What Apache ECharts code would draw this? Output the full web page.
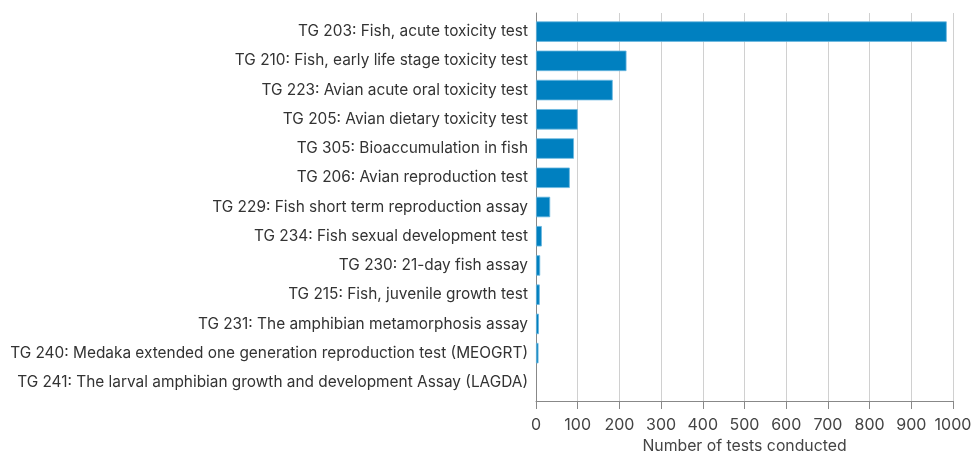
<!DOCTYPE html>
<html><head><meta charset="utf-8">
<script src="https://cdn.jsdelivr.net/npm/echarts@6/dist/echarts.min.js"></script>
<style>html,body{margin:0;padding:0;background:#fff}#c{width:972px;height:452px}</style>
</head><body><div id="c"></div>
<script>
const categories = [
  "TG 203: Fish, acute toxicity test",
  "TG 210: Fish, early life stage toxicity test",
  "TG 223: Avian acute oral toxicity test",
  "TG 205: Avian dietary toxicity test",
  "TG 305: Bioaccumulation in fish",
  "TG 206: Avian reproduction test",
  "TG 229: Fish short term reproduction assay",
  "TG 234: Fish sexual development test",
  "TG 230: 21-day fish assay",
  "TG 215: Fish, juvenile growth test",
  "TG 231: The amphibian metamorphosis assay",
  "TG 240: Medaka extended one generation reproduction test (MEOGRT)",
  "TG 241: The larval amphibian growth and development Assay (LAGDA)"
];
const testsConducted = [985, 217, 184, 100, 91, 81, 34, 14, 10, 9, 7, 6, 0];
const axisTitle = "Number of tests conducted";
const xMin = 0, xMax = 1000, xStep = 100;

const font = 'Inter';
const chart = echarts.init(document.getElementById('c'), null, {renderer:'canvas'});
chart.setOption({
  animation:false,
  grid:[
    {left:536, right:19, top:13, bottom:51, containLabel:false, outerBoundsMode:'none'},
    {left:536, right:19, top:17, bottom:55, containLabel:false, outerBoundsMode:'none'}
  ],
  xAxis:[{
    gridIndex:0, type:'value', min:xMin, max:xMax, interval:xStep,
    name:axisTitle, nameLocation:'middle', nameGap:36,
    nameTextStyle:{fontFamily:font, fontSize:15.8, color:'#444'},
    axisLine:{show:true, lineStyle:{color:'#888', width:1}},
    axisTick:{show:true, length:8, lineStyle:{color:'#888'}},
    axisLabel:{fontFamily:font, fontSize:16, color:'#444', margin:16, formatter:v=>String(v)},
    splitLine:{show:true, lineStyle:{color:'#d0d0d0', width:1}}
  },{
    gridIndex:1, type:'value', min:xMin, max:xMax, show:false
  }],
  yAxis:[{
    gridIndex:0, type:'value', min:0, max:1,
    axisLine:{show:true, lineStyle:{color:'#888', width:1}},
    axisTick:{show:false}, axisLabel:{show:false}, splitLine:{show:false}
  },{
    gridIndex:1, type:'category', data:categories, inverse:true,
    axisLine:{show:false},
    axisTick:{show:false},
    axisLabel:{fontFamily:font, fontSize:15.4, color:'#333', margin:8}
  }],
  series:[{
    type:'bar', xAxisIndex:1, yAxisIndex:1,
    data:testsConducted.map(v => v > 0 ? v : {value:v, itemStyle:{borderWidth:0}}),
    barWidth:'70%',
    itemStyle:{color:'#0080c0', borderColor:'#6ab8e0', borderWidth:0.8}
  }]
});
</script></body></html>
